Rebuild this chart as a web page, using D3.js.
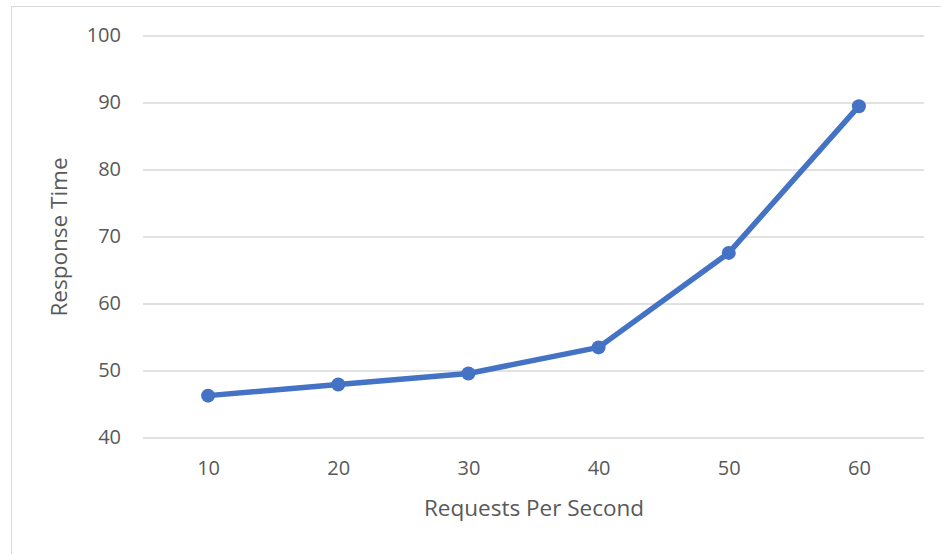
<!DOCTYPE html>
<html>
<head>
<meta charset="utf-8">
<script src="https://cdn.jsdelivr.net/npm/d3@7"></script>
<style>
  body { margin: 0; background: #fff; }
  svg { display: block; font-family: "Open Sans", sans-serif; }
  .axis { font-family: "Open Sans", sans-serif; }
  .tick text { fill: #595959; font-size: 20px; }
  .title { fill: #595959; font-size: 22.5px; }
</style>
</head>
<body>
<svg id="svg" width="941" height="554"></svg>
<script>
// data
const rps = [10, 20, 30, 40, 50, 60];
const respTime = [46.25, 47.9, 49.55, 53.45, 67.55, 89.45];
const yTicks = [40, 50, 60, 70, 80, 90, 100];

var svg = d3.select("#svg"),
    margin = {top: 35.5, right: 17, bottom: 116.5, left: 143},
    width = +svg.attr("width") - margin.left - margin.right,
    height = +svg.attr("height") - margin.top - margin.bottom;

// chart border
svg.append("rect")
    .attr("x", 11.5).attr("y", 6.5)
    .attr("width", 960).attr("height", 600)
    .attr("fill", "none")
    .attr("stroke", "#d9d9d9");

var x = d3.scalePoint().domain(rps).range([0, width]).padding(0.5);
var y = d3.scaleLinear().domain([40, 100]).range([height, 0]);

var g = svg.append("g")
    .attr("transform", "translate(" + margin.left + "," + margin.top + ")");

// gridlines + y labels
var yAxis = d3.axisLeft(y).tickValues(yTicks).tickSize(-width).tickPadding(22);
g.append("g").attr("class", "axis axis--y").call(yAxis)
    .attr("font-family", null)
    .call(a => a.select(".domain").remove())
    .call(a => a.selectAll(".tick line").attr("stroke", "#d9d9d9").attr("stroke-width", 1.3));

var xAxis = d3.axisBottom(x).tickSize(0).tickPadding(23.5);
g.append("g").attr("class", "axis axis--x")
    .attr("transform", "translate(0," + height + ")")
    .call(xAxis)
    .attr("font-family", null)
    .call(a => a.select(".domain").remove());

var line = d3.line()
    .x((d, i) => x(rps[i]))
    .y(d => y(d));

g.append("path")
    .datum(respTime)
    .attr("fill", "none")
    .attr("stroke", "#4472c4")
    .attr("stroke-width", 5.5)
    .attr("stroke-linejoin", "round")
    .attr("d", line);

g.selectAll(".dot")
    .data(respTime)
    .enter().append("circle")
    .attr("class", "dot")
    .attr("cx", (d, i) => x(rps[i]))
    .attr("cy", d => y(d))
    .attr("r", 7)
    .attr("fill", "#4472c4");

// axis titles
svg.append("text")
    .attr("class", "title")
    .attr("x", 534)
    .attr("y", 516)
    .attr("text-anchor", "middle")
    .text("Requests Per Second");

svg.append("text")
    .attr("class", "title")
    .attr("transform", "translate(67,237) rotate(-90)")
    .attr("text-anchor", "middle")
    .text("Response Time");
</script>
</body>
</html>
